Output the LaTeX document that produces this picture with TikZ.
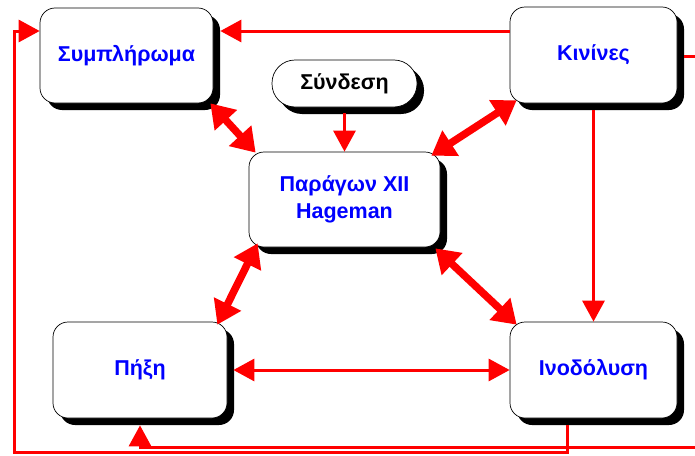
\documentclass[tikz,border=0pt]{standalone}
\usepackage{fontspec}
\setmainfont{Liberation Sans}
\usetikzlibrary{shadows,arrows.meta}
\begin{document}
\begin{tikzpicture}[x=1pt,y=-1pt,
  box/.style={draw=black,line width=0.7pt,fill=white,rounded corners=15pt,
    drop shadow={shadow xshift=7pt,shadow yshift=-7pt,opacity=1,fill=black},
    font=\fontsize{21.5}{27}\selectfont\bfseries,text=blue,align=center,inner sep=0pt},
  pill/.style={box,rounded corners=23pt,text=black,
    drop shadow={shadow xshift=6pt,shadow yshift=-6pt,opacity=1,fill=black}},
  redline/.style={draw=red,line width=3pt},
  redarrow/.style={redline,-{Triangle[length=21pt,width=22pt]}},
  redboth/.style={redline,{Triangle[length=21pt,width=22pt]}-{Triangle[length=21pt,width=22pt]}},
  bigarrow/.style={draw=red,line width=7.5pt,{Triangle[length=23pt,width=29pt]}-{Triangle[length=23pt,width=29pt]}}
]
\useasboundingbox (0,0) rectangle (695,455);
\clip (0,0) rectangle (695,455);
\node[box,minimum width=173pt,minimum height=95pt] (A) at (126.5,55.5) {Συμπλήρωμα};
\node[box,minimum width=167pt,minimum height=96pt] (K) at (593.5,55) {Κινίνες};
\node[pill,minimum width=145pt,minimum height=47pt] (S) at (344.5,83.5) {Σύνδεση};
\node[box,minimum width=191pt,minimum height=95pt] (P) at (344.5,199.5) {Παράγων XII\\Hageman};
\node[box,minimum width=174pt,minimum height=96pt] (C) at (140,370) {Πήξη};
\node[box,minimum width=167pt,minimum height=96pt] (I) at (593.5,370) {Ινοδόλυση};

% thin connectors
\draw[redarrow] ([yshift=24pt]K.west) -- ([xshift=7pt,yshift=24.5pt]A.east);
\draw[redarrow] ([xshift=7pt,yshift=-1pt]K.east) -| (705,447) -| ([yshift=-7pt]C.south);
\draw[redarrow] ([xshift=-26.5pt,yshift=-7pt]I.south) |- (14,452) |- ([yshift=24.5pt]A.west);
\draw[redarrow] ([yshift=-7pt]K.south) -- (I.north);
\draw[redarrow] ([yshift=-6pt]S.south) -- (P.north);
\draw[redboth] ([xshift=6pt]C.east) -- (I.west);

% thick double arrows
\draw[bigarrow] ([xshift=-3pt]A.south east) -- ([xshift=7pt,yshift=-1pt]P.north west);
\draw[bigarrow] ([xshift=7pt,yshift=3pt]K.south west) -- ([xshift=-9pt,yshift=-4pt]P.north east);
\draw[bigarrow] ([xshift=9pt,yshift=4pt]P.south west) -- ([xshift=-10pt,yshift=-3pt]C.north east);
\draw[bigarrow] ([xshift=-5pt,yshift=-1pt]P.south east) -- ([xshift=7pt,yshift=-3pt]I.north west);
\end{tikzpicture}
\end{document}
